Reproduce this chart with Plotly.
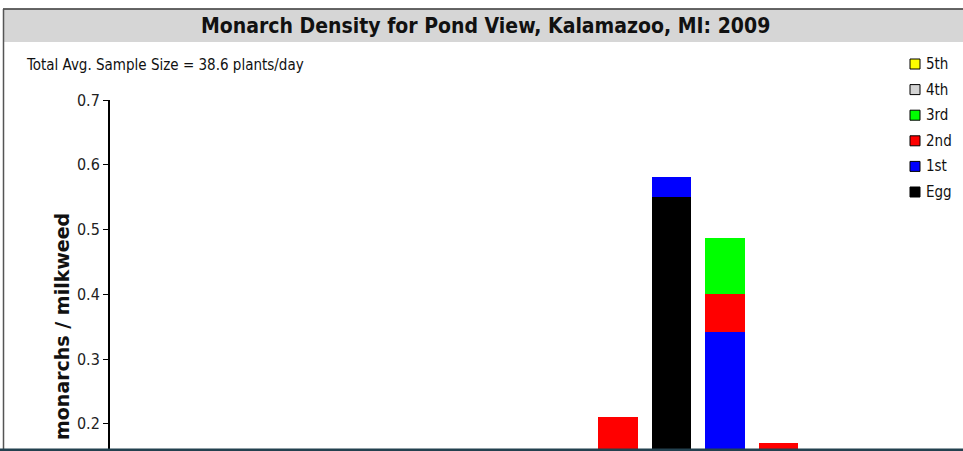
import plotly.graph_objects as go

W, H = 963, 451

# ---- data ----
weeks = ["Wk 1", "Wk 2", "Wk 3", "Wk 4", "Wk 5", "Wk 6", "Wk 7", "Wk 8",
         "Wk 9", "Wk 10", "Wk 11", "Wk 12", "Wk 13", "Wk 14"]
egg   = [0, 0, 0, 0, 0, 0, 0, 0, 0, 0,    0.55,  0,     0,    0]
first = [0, 0, 0, 0, 0, 0, 0, 0, 0, 0,    0.031, 0.342, 0,    0]
second= [0, 0, 0, 0, 0, 0, 0, 0, 0, 0.211, 0,    0.059, 0.17, 0]
third = [0, 0, 0, 0, 0, 0, 0, 0, 0, 0,    0,     0.086, 0,    0]
fourth= [0, 0, 0, 0, 0, 0, 0, 0, 0, 0,    0,     0,     0,    0]
fifth = [0, 0, 0, 0, 0, 0, 0, 0, 0, 0,    0,     0,     0,    0]

series_names = ["Egg", "1st", "2nd", "3rd", "4th", "5th"]
series_vals = [egg, first, second, third, fourth, fifth]
series_colors = ["#000000", "#0000ff", "#ff0000", "#00ff00", "#d3d3d3", "#ffff00"]

title_text = "Monarch Density for Pond View, Kalamazoo, MI: 2009"
subtitle_text = "Total Avg. Sample Size = 38.6 plants/day"
ytitle_text = "monarchs / milkweed"

NARROW = "Liberation Sans Narrow, DejaVu Sans Condensed, Arial Narrow, sans-serif"

def px(x):
    return x / W

def py(y):
    return 1 - y / H

fig = go.Figure()
for name, vals, col in zip(series_names, series_vals, series_colors):
    fig.add_trace(go.Bar(x=weeks, y=vals, name=name, marker_color=col,
                         marker_line_width=0, width=0.74, showlegend=False))

plot_left = 110
slot = 53.47
plot_right = plot_left + slot * len(weeks)

shapes = []
# title band
shapes.append(dict(type="rect", xref="paper", yref="paper", x0=px(3), x1=1.0,
                   y0=py(42), y1=py(9.5), fillcolor="#d6d6d6", line_width=0, layer="below"))
# top dark line
shapes.append(dict(type="line", xref="paper", yref="paper", x0=px(3), x1=1.0,
                   y0=py(9), y1=py(9), line=dict(color="#333333", width=1.5)))
# left border
shapes.append(dict(type="line", xref="paper", yref="paper", x0=px(3.5), x1=px(3.5),
                   y0=py(9), y1=0, line=dict(color="#555555", width=1.5)))
# bottom teal line
shapes.append(dict(type="line", xref="paper", yref="paper", x0=0, x1=1,
                   y0=py(450), y1=py(450), line=dict(color="#23414f", width=3)))

annotations = []
annotations.append(dict(text="<b>" + title_text + "</b>", xref="paper", yref="paper", x=px(485), y=py(26),
                        xanchor="center", yanchor="middle", showarrow=False,
                        font=dict(family=NARROW, size=21, color="#111111")))
annotations.append(dict(text=subtitle_text, xref="paper", yref="paper", x=px(24), y=py(65),
                        xanchor="left", yanchor="middle", showarrow=False,
                        font=dict(family=NARROW, size=15, color="#111111")))
annotations.append(dict(text="<b>" + ytitle_text + "</b>", xref="paper", yref="paper",
                        x=px(62), y=py(327), xanchor="center", yanchor="middle",
                        textangle=-90, showarrow=False,
                        font=dict(family="DejaVu Sans, Verdana, sans-serif", size=19, color="#111111")))

# legend (top to bottom: 5th ... Egg)
leg_y0, leg_dy = 64, 25.6
for i, (name, col) in enumerate(zip(series_names[::-1], series_colors[::-1])):
    cy = leg_y0 + i * leg_dy
    shapes.append(dict(type="rect", xref="paper", yref="paper",
                       x0=px(910), x1=px(920), y0=py(cy + 5), y1=py(cy - 5),
                       fillcolor=col, line=dict(color="#000000", width=1)))
    annotations.append(dict(text=name, xref="paper", yref="paper", x=px(924), y=py(cy),
                            xanchor="left", yanchor="middle", showarrow=False,
                            font=dict(family=NARROW, size=15, color="#111111")))

fig.update_layout(
    width=W, height=H, autosize=False,
    margin=dict(l=0, r=0, t=0, b=0, autoexpand=False),
    paper_bgcolor="white", plot_bgcolor="white",
    barmode="stack", bargap=0,
    shapes=shapes, annotations=annotations,
    showlegend=False,
    xaxis=dict(domain=[px(plot_left), px(plot_right)], range=[-0.5, len(weeks) - 0.5],
               showticklabels=False, showline=False, showgrid=False, zeroline=False,
               ticks=""),
    yaxis=dict(domain=[0, py(100)], range=[0.158, 0.7], dtick=0.1, tick0=0,
               tickformat=".1f", showline=True, linecolor="black", linewidth=2,
               ticks="outside", ticklen=5, tickcolor="black", tickwidth=1,
               showgrid=False, zeroline=False,
               tickfont=dict(family=NARROW, size=16, color="#222222")),
)

fig.write_html("out.html", config={"displayModeBar": False},
               post_script="document.body.style.margin='0';document.body.style.overflow='hidden';")
